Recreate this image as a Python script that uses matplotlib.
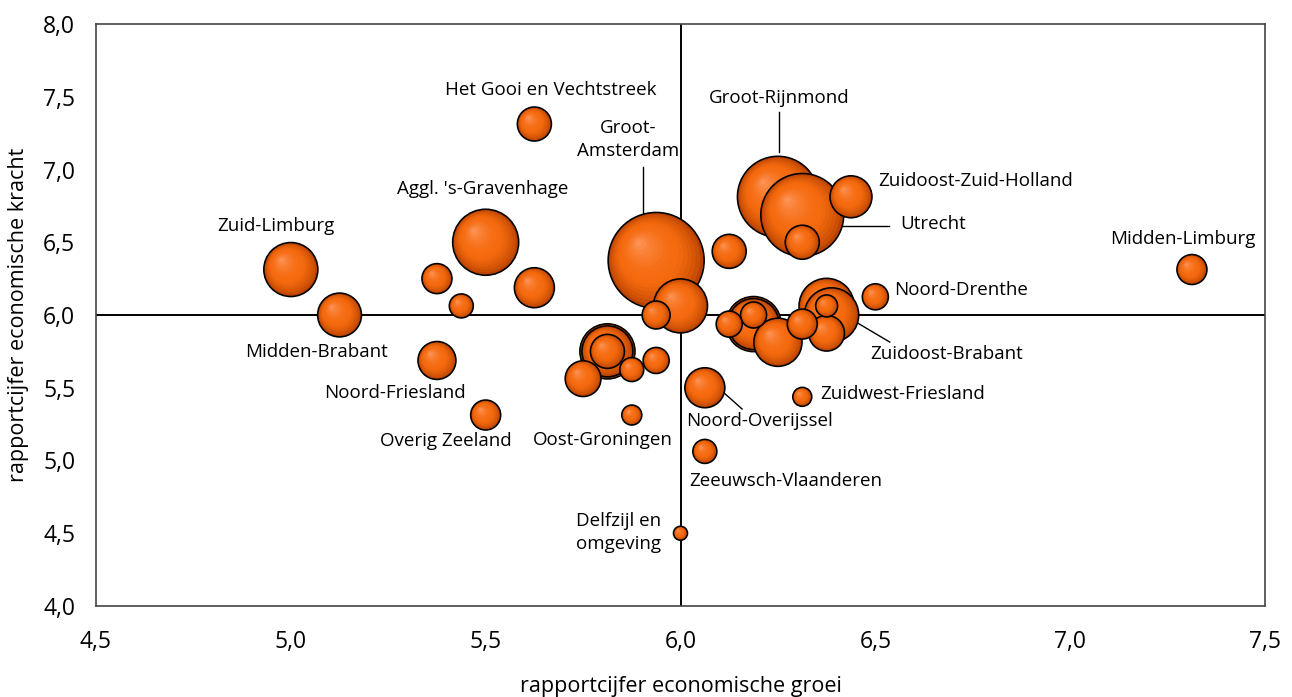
import numpy as np
import matplotlib
matplotlib.use("Agg")
import matplotlib.pyplot as plt
from matplotlib.path import Path
from matplotlib.markers import MarkerStyle
import matplotlib.colors as mcolors

# ---------------- data ----------------
groei = [5.9375, 6.25, 6.3125, 5.5, 6.375, 6.3875, 5.8125, 5.8125, 6.1875, 6.1875,
         5.0, 6.0, 6.25, 5.125, 6.4375, 5.625, 6.0625, 5.625, 5.375, 6.375,
         5.75, 6.3125, 6.125, 6.3125, 5.8125, 5.375, 5.5, 6.1875, 5.9375, 6.5, 6.125,
         5.9375, 7.3125, 5.4375, 5.875, 6.0625, 6.375, 5.875, 6.3125, 6.0]
kracht = [6.375, 6.8125, 6.6875, 6.5, 6.0625, 6.0, 5.75, 5.75, 5.9375, 5.9375,
          6.3125, 6.0625, 5.8125, 6.0, 6.8125, 6.1875, 5.5, 7.3125, 5.6875, 5.875,
          5.5625, 6.5, 6.4375, 5.9375, 5.75, 6.25, 5.3125, 6.0, 6.0, 6.125, 5.9375,
          5.6875, 6.3125, 6.0625, 5.625, 5.0625, 6.0625, 5.3125, 5.4375, 4.5]
omvang = [2304, 1640, 1720, 1090, 760, 740, 760, 650, 760, 650,
          730, 730, 580, 480, 440, 400, 400, 290, 360, 320,
          320, 290, 290, 225, 290, 225, 225, 170, 196, 170, 170,
          170, 225, 144, 144, 144, 121, 100, 90, 49]

labels = ["Het Gooi en Vechtstreek", "Groot-Rijnmond", "Groot-\nAmsterdam",
          "Zuidoost-Zuid-Holland", "Utrecht", "Aggl. 's-Gravenhage", "Zuid-Limburg",
          "Midden-Limburg", "Noord-Drenthe", "Zuidoost-Brabant", "Midden-Brabant",
          "Noord-Friesland", "Overig Zeeland", "Oost-Groningen", "Noord-Overijssel",
          "Zuidwest-Friesland", "Zeeuwsch-Vlaanderen", "Delfzijl en\nomgeving"]

xticks = [4.5, 5.0, 5.5, 6.0, 6.5, 7.0, 7.5]
yticks = [4.0, 4.5, 5.0, 5.5, 6.0, 6.5, 7.0, 7.5, 8.0]

# ---------------- layout (label positions, data units) ----------------
label_pos = [(5.668, 7.546, "center"), (6.253, 7.491, "center"), (5.865, 7.206, "center"),
             (6.507, 6.921, "left"), (6.563, 6.625, "left"), (5.493, 6.866, "center"),
             (4.962, 6.612, "center"), (7.289, 6.522, "center"), (6.548, 6.172, "left"),
             (6.486, 5.732, "left"), (5.067, 5.746, "center"), (5.267, 5.464, "center"),
             (5.398, 5.134, "center"), (5.801, 5.141, "center"), (6.204, 5.271, "center"),
             (6.358, 5.457, "left"), (6.271, 4.859, "center"), (5.842, 4.505, "center")]
leader_lines = [((6.253, 7.395), (6.253, 7.12)),
                ((5.904, 7.017), (5.904, 6.694)),
                ((6.409, 6.612), (6.535, 6.612)),
                ((6.450, 5.952), (6.537, 5.814)),
                ((6.109, 5.471), (6.158, 5.354))]

plt.rcParams['font.family'] = ['Open Sans', 'DejaVu Sans']

W, H, DPI = 1292, 697, 100
fig = plt.figure(figsize=(W / DPI, H / DPI), dpi=DPI)
ax = fig.add_axes([96 / W, 1 - 606 / H, (1265 - 96) / W, (606 - 24) / H])
ax.set_xlim(4.5, 7.5)
ax.set_ylim(4.0, 8.0)

for sp in ax.spines.values():
    sp.set_color("#444444")
    sp.set_linewidth(1.2)

ax.axvline(6.0, color="black", lw=1.4, zorder=1)
ax.axhline(6.0, color="black", lw=1.4, zorder=1)

# bubble shading
px_to_pt = 72.0 / DPI
dark = np.array(mcolors.to_rgb("#b84200"))
mid = np.array(mcolors.to_rgb("#f56a0e"))
light = np.array(mcolors.to_rgb("#ff9a62"))


def shade(t):
    # t: 0 at rim, 1 at highlight centre
    if t < 0.35:
        u = t / 0.35
        return dark + (mid - dark) * (u ** 0.7)
    u = (t - 0.35) / 0.65
    return mid + (light - mid) * (u ** 1.8)


circ = Path.unit_circle()
fs = np.linspace(1.0, 0.06, 16)
markers = []
for f in fs:
    d = (1 - f) * 0.38
    verts = circ.vertices * f + np.array([-d, d])
    markers.append((MarkerStyle(Path(verts, circ.codes)), (d + f) ** 2, shade(1 - f)))

z = 3
for x, y, v in zip(groei, kracht, omvang):
    s = (2 * np.sqrt(v) * px_to_pt) ** 2
    for i, (m, k, c) in enumerate(markers):
        if i == 0:
            ax.scatter([x], [y], s=[s], marker="o", color=c, edgecolors="none",
                       linewidths=0, zorder=z)
        else:
            ax.scatter([x], [y], s=[s * k], marker=m, color=c, edgecolors="none",
                       linewidths=0, zorder=z)
        z += 0.001
    ax.scatter([x], [y], s=[s], marker="o", facecolors="none", edgecolors="black",
               linewidths=1.15, zorder=z)
    z += 0.001

for (x, y, ha), t in zip(label_pos, labels):
    ax.text(x, y, t, ha=ha, va="center", fontsize=13.5, color="black",
            linespacing=1.3, zorder=10)
for (a, b) in leader_lines:
    ax.plot([a[0], b[0]], [a[1], b[1]], color="black", lw=1.0, zorder=2)

ax.set_xticks(xticks)
ax.set_yticks(yticks)
ax.set_xticklabels([f"{t:.1f}".replace(".", ",") for t in xticks], fontsize=16.5)
ax.set_yticklabels([f"{t:.1f}".replace(".", ",") for t in yticks], fontsize=16.5)
ax.tick_params(axis="x", length=0, pad=17)
ax.tick_params(axis="y", length=0, pad=15)
ax.set_xlabel("rapportcijfer economische groei", fontsize=15.5, labelpad=16)
ax.set_ylabel("rapportcijfer economische kracht", fontsize=15.5, labelpad=10)

fig.savefig("out.png", dpi=DPI)
